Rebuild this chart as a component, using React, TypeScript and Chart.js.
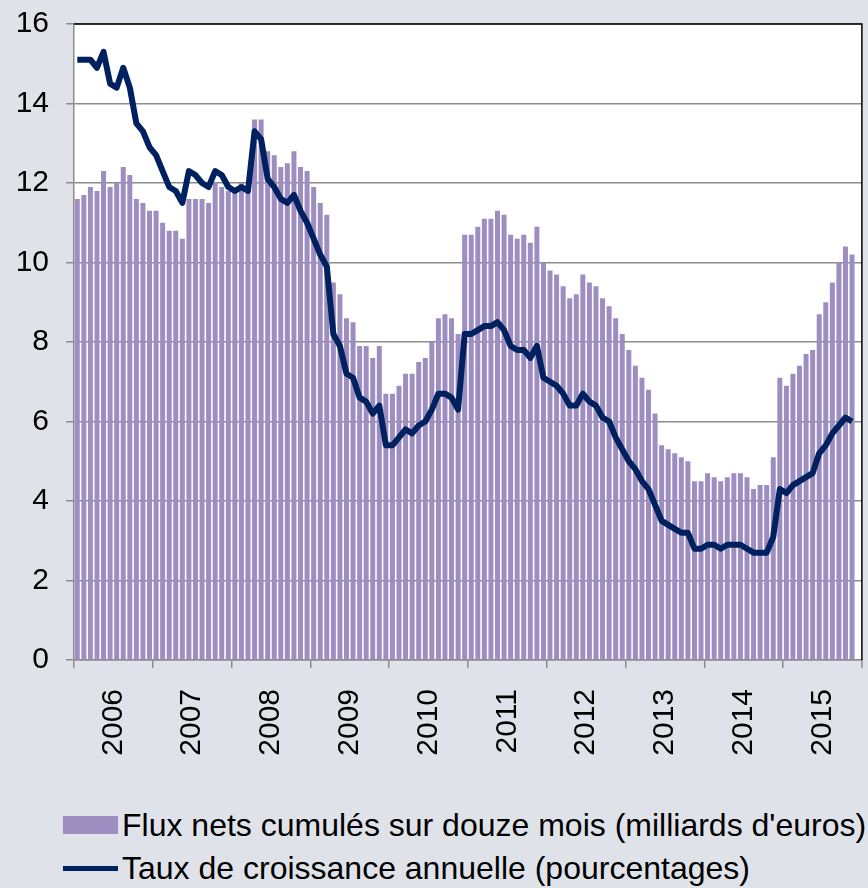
import React, { useEffect, useRef } from "react";
import { Chart, registerables } from "chart.js";

Chart.register(...registerables);

const years = ["2006", "2007", "2008", "2009", "2010", "2011", "2012", "2013", "2014", "2015"];
const monthsPerYear = 12;

// Flux nets cumulés sur douze mois (milliards d'euros), Jan 2006 – Nov 2015
const fluxNets = [
  11.6, 11.7, 11.9, 11.8, 12.3, 11.9, 12.0, 12.4, 12.2, 11.6, 11.5, 11.3,
  11.3, 11.0, 10.8, 10.8, 10.6, 11.6, 11.6, 11.6, 11.5, 12.0, 11.9, 11.8,
  11.8, 12.0, 11.9, 13.6, 13.6, 12.8, 12.7, 12.4, 12.5, 12.8, 12.4, 12.3,
  11.9, 11.5, 11.2, 9.5, 9.2, 8.6, 8.5, 7.9, 7.9, 7.6, 7.9, 6.7,
  6.7, 6.9, 7.2, 7.2, 7.5, 7.6, 8.0, 8.6, 8.7, 8.6, 8.2, 10.7,
  10.7, 10.9, 11.1, 11.1, 11.3, 11.2, 10.7, 10.6, 10.7, 10.5, 10.9, 10.0,
  9.8, 9.7, 9.4, 9.1, 9.2, 9.7, 9.5, 9.4, 9.1, 8.9, 8.6, 8.2,
  7.8, 7.4, 7.1, 6.8, 6.2, 5.4, 5.3, 5.2, 5.1, 5.0, 4.5, 4.5,
  4.7, 4.6, 4.5, 4.6, 4.7, 4.7, 4.6, 4.3, 4.4, 4.4, 5.1, 7.1,
  6.9, 7.2, 7.4, 7.7, 7.8, 8.7, 9.0, 9.5, 10.0, 10.4, 10.2,
];

// Taux de croissance annuelle (pourcentages)
const tauxCroissance = [
  15.1, 15.1, 15.1, 14.9, 15.3, 14.5, 14.4, 14.9, 14.4, 13.5, 13.3, 12.9,
  12.7, 12.3, 11.9, 11.8, 11.5, 12.3, 12.2, 12.0, 11.9, 12.3, 12.2, 11.9,
  11.8, 11.9, 11.8, 13.3, 13.1, 12.1, 11.9, 11.6, 11.5, 11.7, 11.3, 11.0,
  10.6, 10.2, 9.9, 8.2, 7.9, 7.2, 7.1, 6.6, 6.5, 6.2, 6.4, 5.4,
  5.4, 5.6, 5.8, 5.7, 5.9, 6.0, 6.3, 6.7, 6.7, 6.6, 6.3, 8.2,
  8.2, 8.3, 8.4, 8.4, 8.5, 8.3, 7.9, 7.8, 7.8, 7.6, 7.9, 7.1,
  7.0, 6.9, 6.7, 6.4, 6.4, 6.7, 6.5, 6.4, 6.1, 6.0, 5.6, 5.3,
  5.0, 4.8, 4.5, 4.3, 3.9, 3.5, 3.4, 3.3, 3.2, 3.2, 2.8, 2.8,
  2.9, 2.9, 2.8, 2.9, 2.9, 2.9, 2.8, 2.7, 2.7, 2.7, 3.1, 4.3,
  4.2, 4.4, 4.5, 4.6, 4.7, 5.2, 5.4, 5.7, 5.9, 6.1, 6.0,
];

const yTicks = [0, 2, 4, 6, 8, 10, 12, 14, 16];

const barLabel = "Flux nets cumulés sur douze mois (milliards d'euros)";
const lineLabel = "Taux de croissance annuelle (pourcentages)";

const months: string[] = [];
years.forEach((y) => {
  for (let m = 1; m <= monthsPerYear; m++) months.push(`${y}-${m}`);
});

const BG = "#DFE3E9";
const BAR = "#9E8DC0";
const LINE = "#00215F";
const GRID = "#8C8C8C";
const FONT = "Arial, 'Liberation Sans', sans-serif";

const frame = {
  id: "frame",
  beforeDraw(chart: any) {
    const { ctx, chartArea } = chart;
    const { left, top, right, bottom } = chartArea;
    ctx.save();
    ctx.fillStyle = "#ffffff";
    ctx.fillRect(left, top, right - left, bottom - top);
    ctx.restore();
  },
  afterDraw(chart: any) {
    const { ctx, chartArea } = chart;
    const { left, top, right, bottom } = chartArea;
    ctx.save();
    ctx.strokeStyle = "#000000";
    ctx.lineWidth = 1.5;
    ctx.beginPath();
    ctx.moveTo(left, top);
    ctx.lineTo(right, top);
    ctx.lineTo(right, bottom);
    ctx.stroke();
    ctx.strokeStyle = GRID;
    ctx.beginPath();
    ctx.moveTo(right, bottom);
    ctx.lineTo(right, bottom + 8);
    ctx.stroke();
    ctx.restore();
  },
};

export default function App() {
  const ref = useRef<HTMLCanvasElement>(null);

  useEffect(() => {
    if (!ref.current) return;
    const chart = new Chart(ref.current, {
      type: "bar",
      data: {
        labels: months,
        datasets: [
          {
            type: "line",
            label: lineLabel,
            data: tauxCroissance,
            borderColor: LINE,
            backgroundColor: LINE,
            borderWidth: 6,
            pointRadius: 0,
            tension: 0,
            order: 0,
            borderJoinStyle: "round",
          } as any,
          {
            type: "bar",
            label: barLabel,
            data: fluxNets,
            backgroundColor: BAR,
            borderWidth: 0,
            categoryPercentage: 1,
            barPercentage: 0.76,
            order: 1,
          },
        ],
      },
      options: {
        animation: false,
        responsive: false,
        devicePixelRatio: 1,
        layout: { padding: 0 },
        plugins: { legend: { display: false }, tooltip: { enabled: false } },
        scales: {
          x: {
            type: "category",
            offset: true,
            grid: {
              offset: true,
              drawOnChartArea: false,
              drawTicks: true,
              tickLength: 8,
              lineWidth: 1.5,
              color: (c: any) => (c.index % monthsPerYear === 0 ? GRID : "rgba(0,0,0,0)"),
            },
            border: { color: GRID, width: 1.5 },
            ticks: { display: false, autoSkip: false },
            afterFit: (s: any) => {
              s.height = 8;
            },
          },
          x2: {
            type: "category",
            labels: years,
            position: "bottom",
            offset: true,
            grid: { display: false },
            border: { display: false },
            ticks: {
              autoSkip: false,
              maxRotation: 90,
              minRotation: 90,
              padding: 13,
              color: "#000",
              font: { family: FONT, size: 30 },
            },
            afterFit: (s: any) => {
              s.height = 102;
            },
          },
          y: {
            min: 0,
            max: 16,
            afterBuildTicks: (s: any) => {
              s.ticks = yTicks.map((v) => ({ value: v }));
            },
            grid: { color: GRID, lineWidth: 1.5, tickLength: 8 },
            border: { color: GRID, width: 1.5 },
            ticks: {
              padding: 17,
              color: "#000",
              font: { family: FONT, size: 30 },
            },
            afterFit: (s: any) => {
              s.width = 74;
            },
          },
        },
      },
      plugins: [frame],
    });
    return () => chart.destroy();
  }, []);

  const textStyle: React.CSSProperties = {
    position: "absolute",
    left: 122,
    fontFamily: FONT,
    fontSize: 32,
    color: "#000",
    whiteSpace: "nowrap",
    lineHeight: "36px",
  };

  return (
    <div style={{ position: "absolute", left: 0, top: 0, width: 868, height: 888, background: BG, overflow: "hidden" }}>
      <canvas ref={ref} width={872} height={781} style={{ position: "absolute", left: 0, top: -11, display: "block" }} />
      <div style={{ position: "absolute", left: 63, top: 816, width: 55, height: 18, background: BAR }} />
      <div style={{ ...textStyle, top: 807 }}>{barLabel}</div>
      <div style={{ position: "absolute", left: 63, top: 866, width: 55, height: 5, background: LINE }} />
      <div style={{ ...textStyle, top: 850 }}>{lineLabel}</div>
    </div>
  );
}
